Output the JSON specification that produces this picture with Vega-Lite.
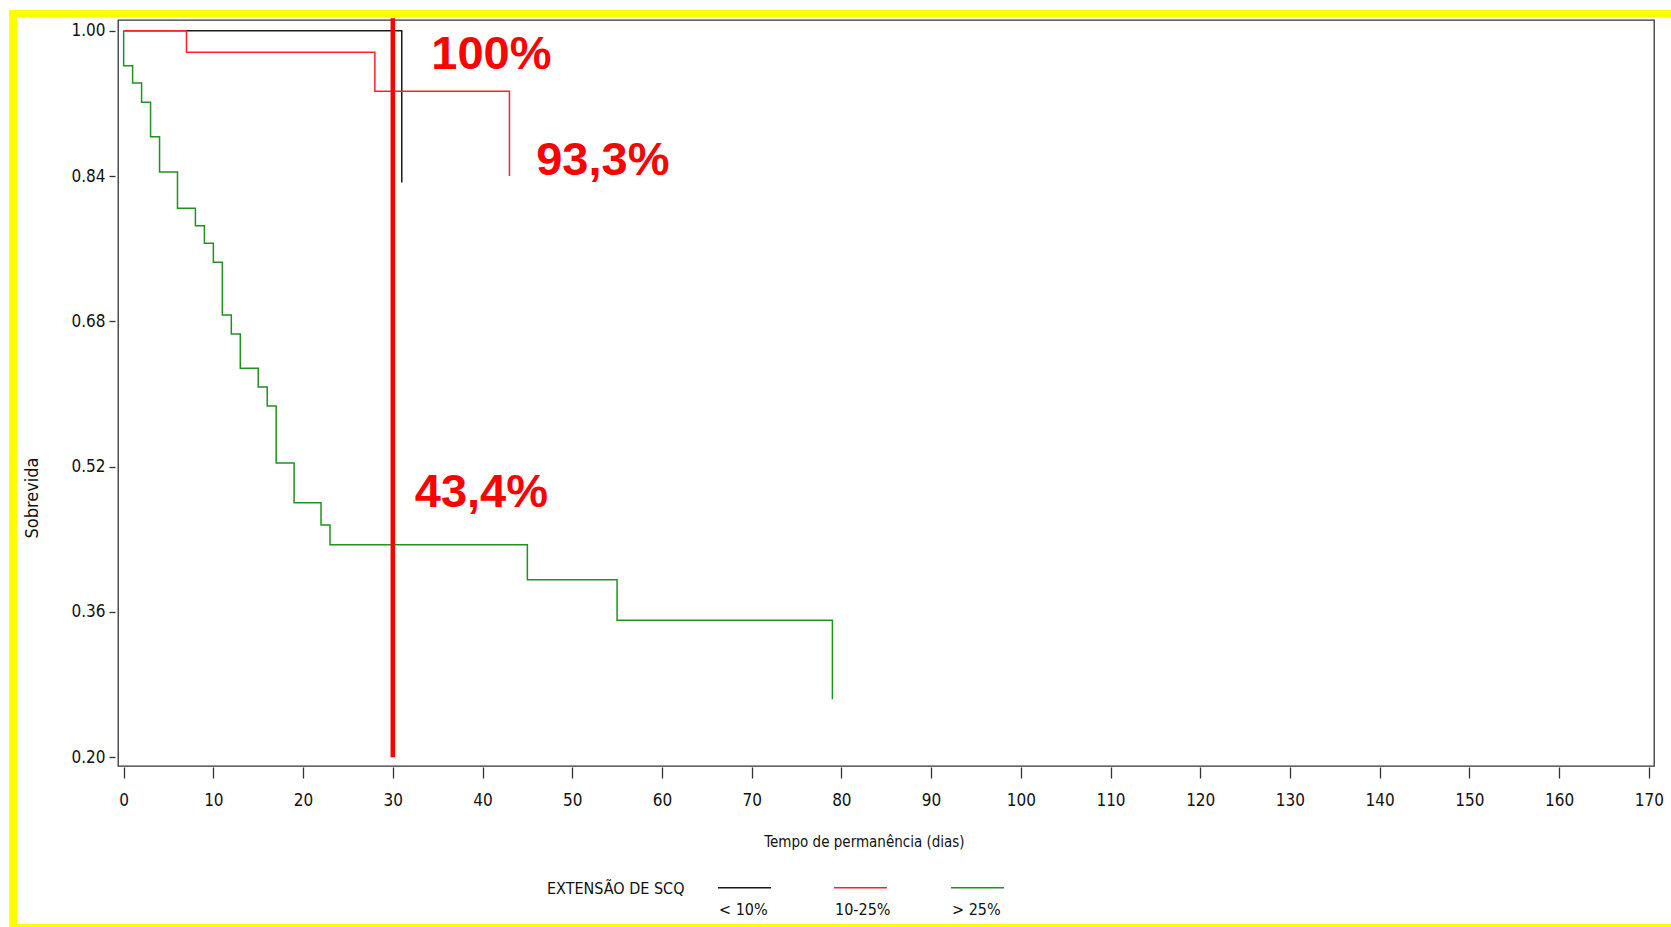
{
  "$schema": "https://vega.github.io/schema/vega-lite/v6.json",
  "width": 1536,
  "height": 746,
  "autosize": {"type": "none"},
  "padding": {"left": 118, "top": 20, "right": 17, "bottom": 161},
  "background": "#ffffff",
  "config": {
    "view": {"stroke": "#333333", "strokeWidth": 1.3},
    "font": "Liberation Sans Narrow, DejaVu Sans Condensed, Liberation Sans, sans-serif"
  },
  "layer": [
    {
      "data": {"values": [{}]},
      "mark": {"type": "rule", "color": "#ffff00", "strokeWidth": 7.5},
      "encoding": {
        "x": {"datum": -12.78, "type": "quantitative"},
        "x2": {"datum": 172.48},
        "y": {"datum": 1.0187, "type": "quantitative"}
      }
    },
    {
      "data": {"values": [{}]},
      "mark": {"type": "rule", "color": "#ffff00", "strokeWidth": 8},
      "encoding": {
        "x": {"datum": -12.33, "type": "quantitative"},
        "y": {"datum": 1.0228, "type": "quantitative"},
        "y2": {"datum": 0.012}
      }
    },
    {
      "data": {"values": [{}]},
      "mark": {"type": "rule", "color": "#ffff00", "strokeWidth": 4},
      "encoding": {
        "x": {"datum": -12.78, "type": "quantitative"},
        "x2": {"datum": 172.48},
        "y": {"datum": 0.0142, "type": "quantitative"}
      }
    },
    {
      "data": {
        "values": [
          {"group": "< 10%", "day": 0, "surv": 1.0},
          {"group": "< 10%", "day": 31, "surv": 0.833},
          {"group": "10-25%", "day": 0, "surv": 1.0},
          {"group": "10-25%", "day": 7, "surv": 0.9762},
          {"group": "10-25%", "day": 28, "surv": 0.9333},
          {"group": "10-25%", "day": 43, "surv": 0.84},
          {"group": "> 25%", "day": 0, "surv": 1.0},
          {"group": "> 25%", "day": 0, "surv": 0.9615},
          {"group": "> 25%", "day": 1, "surv": 0.9424},
          {"group": "> 25%", "day": 2, "surv": 0.9212},
          {"group": "> 25%", "day": 3, "surv": 0.8833},
          {"group": "> 25%", "day": 4, "surv": 0.8444},
          {"group": "> 25%", "day": 6, "surv": 0.8044},
          {"group": "> 25%", "day": 8, "surv": 0.7853},
          {"group": "> 25%", "day": 9, "surv": 0.7659},
          {"group": "> 25%", "day": 10, "surv": 0.745},
          {"group": "> 25%", "day": 11, "surv": 0.687},
          {"group": "> 25%", "day": 12, "surv": 0.666},
          {"group": "> 25%", "day": 13, "surv": 0.6283},
          {"group": "> 25%", "day": 15, "surv": 0.6077},
          {"group": "> 25%", "day": 16, "surv": 0.5868},
          {"group": "> 25%", "day": 17, "surv": 0.524},
          {"group": "> 25%", "day": 19, "surv": 0.4803},
          {"group": "> 25%", "day": 22, "surv": 0.4557},
          {"group": "> 25%", "day": 23, "surv": 0.434},
          {"group": "> 25%", "day": 45, "surv": 0.3955},
          {"group": "> 25%", "day": 55, "surv": 0.3508},
          {"group": "> 25%", "day": 79, "surv": 0.2638}
        ]
      },
      "mark": {"type": "line", "interpolate": "step-after", "strokeWidth": 1.5},
      "encoding": {
        "x": {
          "field": "day",
          "type": "quantitative",
          "scale": {"domain": [-0.63, 170.58], "nice": false, "zero": false},
          "axis": {
            "title": "Tempo de permanência (dias)",
            "values": [0, 10, 20, 30, 40, 50, 60, 70, 80, 90, 100, 110, 120, 130, 140, 150, 160, 170],
            "format": "d",
            "domain": false,
            "grid": false,
            "offset": 1,
            "tickSize": 11,
            "tickColor": "#333333",
            "tickWidth": 1.3,
            "labelFontSize": 17,
            "labelPadding": 14,
            "labelColor": "#111111",
            "labelFlush": false,
            "titleFontSize": 15,
            "titleFontWeight": "normal",
            "titleColor": "#111111",
            "titleX": 746,
            "titleY": 79,
            "titleBaseline": "alphabetic"
          }
        },
        "y": {
          "field": "surv",
          "type": "quantitative",
          "scale": {"domain": [0.1904, 1.0118], "nice": false, "zero": false},
          "axis": {
            "title": "Sobrevida",
            "values": [0.2, 0.36, 0.52, 0.68, 0.84, 1.0],
            "format": ".2f",
            "domain": false,
            "grid": false,
            "offset": 3,
            "tickSize": 6,
            "tickColor": "#333333",
            "tickWidth": 1.3,
            "labelPadding": 4,
            "labelFontSize": 17,
            "labelColor": "#111111",
            "titleFontSize": 18,
            "titleFontWeight": "normal",
            "titleColor": "#111111",
            "titleAngle": -90,
            "titleX": -82.5,
            "titleY": 477.5,
            "titleAlign": "center",
            "titleBaseline": "middle"
          }
        },
        "color": {
          "field": "group",
          "type": "nominal",
          "scale": {"domain": ["< 10%", "10-25%", "> 25%"], "range": ["#1a1a1a", "#ff2222", "#1f931f"]},
          "legend": {
            "title": "EXTENSÃO DE SCQ",
            "orient": "none",
            "legendX": 429,
            "legendY": 840,
            "direction": "horizontal",
            "titleOrient": "left",
            "titleFontSize": 16,
            "titleFontWeight": "normal",
            "titleColor": "#111111",
            "titlePadding": 32,
            "symbolType": "stroke",
            "symbolSize": 2809,
            "symbolStrokeWidth": 1.5,
            "labelFontSize": 16,
            "labelColor": "#111111",
            "labelOffset": -53,
            "labelAlign": "left",
            "columnPadding": 57,
            "encode": {"labels": {"update": {"dy": {"value": 22}}}}
          }
        }
      }
    },
    {
      "data": {"values": [{}]},
      "mark": {"type": "rule", "color": "#ff0000", "strokeWidth": 4.5},
      "encoding": {
        "x": {"datum": 30, "type": "quantitative"},
        "y": {"datum": 0.2, "type": "quantitative"},
        "y2": {"datum": 1.0137}
      }
    },
    {
      "data": {"values": [{"label": "100%", "day": 30, "surv": 1.0}]},
      "mark": {"type": "text", "font": "Liberation Sans, Arial, sans-serif", "fontWeight": "bold", "fontSize": 47, "color": "#ff0000", "align": "center", "baseline": "middle", "dx": 98.6, "dy": 24.3},
      "encoding": {
        "x": {"field": "day", "type": "quantitative"},
        "y": {"field": "surv", "type": "quantitative"},
        "text": {"field": "label"}
      }
    },
    {
      "data": {"values": [{"label": "93,3%", "day": 30, "surv": 0.9333}]},
      "mark": {"type": "text", "font": "Liberation Sans, Arial, sans-serif", "fontWeight": "bold", "fontSize": 47, "color": "#ff0000", "align": "center", "baseline": "middle", "dx": 210, "dy": 70.2},
      "encoding": {
        "x": {"field": "day", "type": "quantitative"},
        "y": {"field": "surv", "type": "quantitative"},
        "text": {"field": "label"}
      }
    },
    {
      "data": {"values": [{"label": "43,4%", "day": 30, "surv": 0.434}]},
      "mark": {"type": "text", "font": "Liberation Sans, Arial, sans-serif", "fontWeight": "bold", "fontSize": 47, "color": "#ff0000", "align": "center", "baseline": "middle", "dx": 88.6, "dy": -52.2},
      "encoding": {
        "x": {"field": "day", "type": "quantitative"},
        "y": {"field": "surv", "type": "quantitative"},
        "text": {"field": "label"}
      }
    }
  ]
}
